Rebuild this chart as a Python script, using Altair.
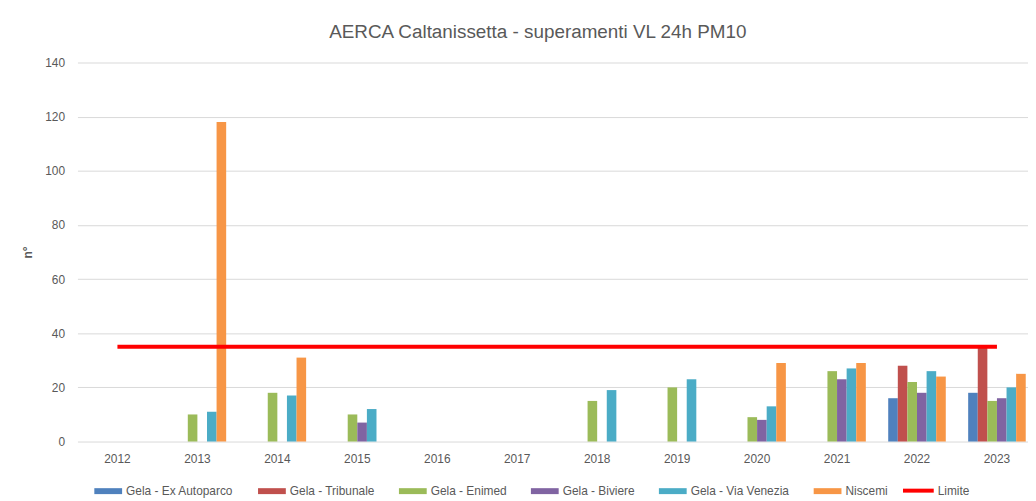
import altair as alt
import pandas as pd

years = ["2012", "2013", "2014", "2015", "2016", "2017", "2018", "2019", "2020", "2021", "2022", "2023"]
series = ["Gela - Ex Autoparco", "Gela - Tribunale", "Gela - Enimed", "Gela - Biviere", "Gela - Via Venezia", "Niscemi"]
colors = ["#4F81BD", "#C0504D", "#9BBB59", "#8064A2", "#4BACC6", "#F79646"]

ex_autoparco = [None, None, None, None, None, None, None, None, None, None, 16, 18]
tribunale    = [None, None, None, None, None, None, None, None, None, None, 28, 35]
enimed       = [None, 10, 18, 10, None, None, 15, 20, 9, 26, 22, 15]
biviere      = [None, None, None, 7, None, None, None, None, 8, 23, 18, 16]
via_venezia  = [None, 11, 17, 12, None, None, 19, 23, 13, 27, 26, 20]
niscemi      = [None, 118, 31, None, None, None, None, None, 29, 29, 24, 25]
limite       = [35] * 12

values = [ex_autoparco, tribunale, enimed, biviere, via_venezia, niscemi]
rows = []
for s, vals in zip(series, values):
    for y, v in zip(years, vals):
        if v is not None:
            rows.append({"anno": y, "stazione": s, "valore": v})
bars_df = pd.DataFrame(rows)
lim_df = pd.DataFrame({"anno": years, "valore": limite, "label": ["Limite"] * 12})

FONT = "Liberation Sans"
GREY = "#595959"

xscale = alt.Scale(domain=years, range=[0, 967], paddingInner=0.28, paddingOuter=0.14)
yscale = alt.Scale(domain=[0, 140], nice=False)

x_axis = alt.Axis(title=None, labelAngle=0, ticks=False, tickSize=0, labelPadding=12,
                  labelFont=FONT, labelFontSize=12, labelColor=GREY,
                  domain=False, grid=False)
y_axis = alt.Axis(title="n°", values=[0, 20, 40, 60, 80, 100, 120, 140], ticks=False, tickSize=0,
                  domain=False, labelPadding=13, labelFont=FONT, labelFontSize=12, labelColor=GREY,
                  titleFont=FONT, titleFontSize=12, titleFontWeight="bold", titleColor=GREY,
                  titlePadding=10, gridColor="#D9D9D9", gridWidth=1)

bars = alt.Chart(bars_df).mark_bar().encode(
    x=alt.X("anno:N", scale=xscale, axis=x_axis),
    xOffset=alt.XOffset("stazione:N", scale=alt.Scale(domain=series, paddingInner=0, paddingOuter=0)),
    y=alt.Y("valore:Q", scale=yscale, axis=y_axis),
    color=alt.Color("stazione:N", scale=alt.Scale(domain=series, range=colors),
                    legend=alt.Legend(title=None, orient="none", direction="horizontal",
                                      legendX=17, legendY=418, padding=0,
                                      symbolType="M-1,-0.214L1,-0.214L1,0.214L-1,0.214Z",
                                      symbolSize=784, symbolStrokeWidth=0, labelOffset=4,
                                      columnPadding=24, labelFont=FONT, labelFontSize=12,
                                      labelColor=GREY, symbolOpacity=1)),
)

line = alt.Chart(lim_df).mark_line(color="#FF0000", strokeWidth=4).encode(
    x=alt.X("anno:N", scale=xscale, axis=x_axis),
    y=alt.Y("valore:Q", scale=yscale, axis=y_axis),
    stroke=alt.Stroke("label:N", scale=alt.Scale(domain=["Limite"], range=["#FF0000"]),
                      legend=alt.Legend(title=None, orient="none", legendX=830, legendY=414,
                                        padding=0, symbolType="stroke", symbolSize=961,
                                        symbolStrokeWidth=4, labelOffset=2, labelFont=FONT,
                                        labelFontSize=12, labelColor=GREY)),
)

chart = alt.layer(bars, line).resolve_scale(color="independent").properties(
    width=958, height=382,
    background="white",
    view=alt.ViewBackground(stroke="transparent", strokeWidth=0, strokeOpacity=0),
    title=alt.TitleParams("AERCA Caltanissetta - superamenti VL 24h PM10", font=FONT, fontSize=19,
                          fontWeight="normal", color=GREY, anchor="middle", dx=-15, offset=15),
    autosize=alt.AutoSizeParams(type="none"),
    padding={"left": 70, "top": 53, "right": 0, "bottom": 58},
).configure_view(
    strokeWidth=0, stroke="transparent"
).configure_axisY(
    domain=False
).configure_axisX(
    grid=False, domain=False
)

chart.save("out.html", embed_options={"renderer": "svg", "actions": False})
